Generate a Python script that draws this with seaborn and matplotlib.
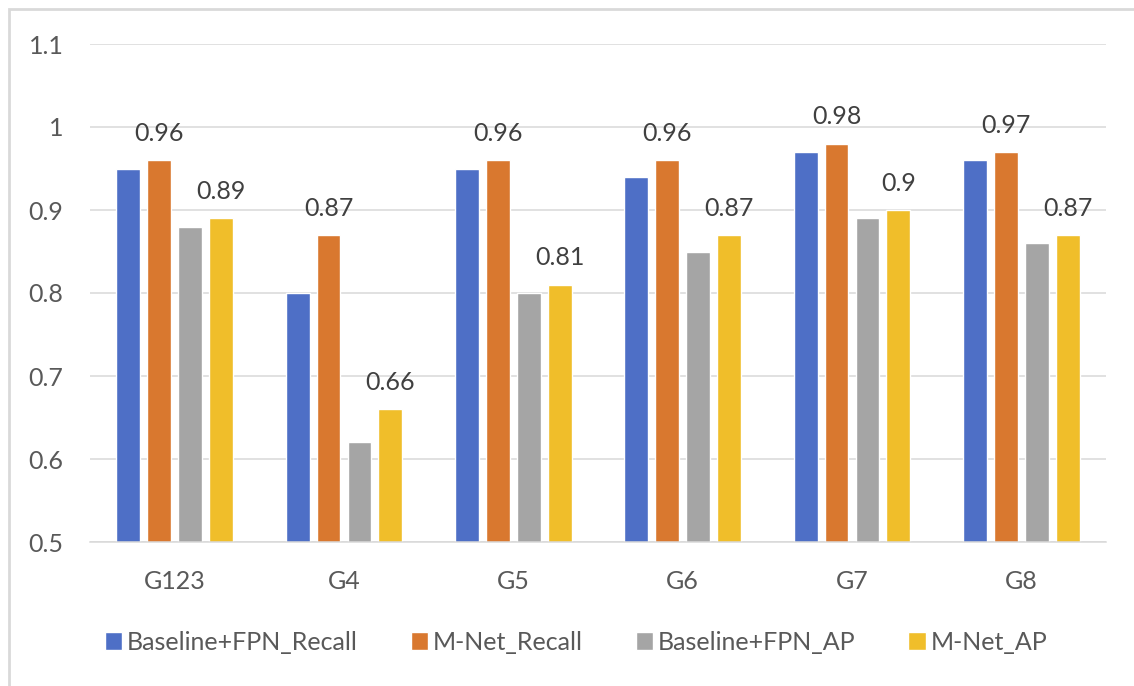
import matplotlib
matplotlib.use("Agg")
import matplotlib.pyplot as plt
from matplotlib.patches import Rectangle
import seaborn as sns
import pandas as pd

# Group names and the four series compared per group
groups = ["G123", "G4", "G5", "G6", "G7", "G8"]
series_names = ["Baseline+FPN_Recall", "M-Net_Recall", "Baseline+FPN_AP", "M-Net_AP"]

baseline_recall = [0.95, 0.80, 0.95, 0.94, 0.97, 0.96]
mnet_recall = [0.96, 0.87, 0.96, 0.96, 0.98, 0.97]
baseline_ap = [0.88, 0.62, 0.80, 0.85, 0.89, 0.86]
mnet_ap = [0.89, 0.66, 0.81, 0.87, 0.90, 0.87]

y_ticks = [0.5, 0.6, 0.7, 0.8, 0.9, 1.0, 1.1]
labelled_series = ["M-Net_Recall", "M-Net_AP"]

colors = ["#4E6FC6", "#D9782F", "#A5A5A5", "#F0BE2A"]

records = []
for name, vals in zip(series_names, [baseline_recall, mnet_recall, baseline_ap, mnet_ap]):
    for g, v in zip(groups, vals):
        records.append({"group": g, "series": name, "value": v})
df = pd.DataFrame(records)

sns.set_theme(style="white")
plt.rcParams["font.family"] = ["Lato", "DejaVu Sans"]

FS = 18
fig = plt.figure(figsize=(11.34, 6.86), dpi=100)
ax = fig.add_axes([90 / 1134, 1 - 542 / 686, (1106 - 90) / 1134, (542 - 44) / 686])

sns.barplot(data=df, x="group", y="value", hue="series", order=groups,
            hue_order=series_names, palette=colors, width=0.732, gap=0.226,
            saturation=1, ax=ax, legend=True)

ax.set_ylim(0.5, 1.1)
ax.set_xlim(-0.5, len(groups) - 0.5)
ax.set_yticks(y_ticks)
ax.set_yticklabels([f"{t:g}" for t in y_ticks])
ax.yaxis.grid(True, color="#D9D9D9", linewidth=1.1)
ax.set_axisbelow(True)
for side in ["top", "right", "left"]:
    ax.spines[side].set_visible(False)
ax.spines["bottom"].set_color("#D9D9D9")
ax.spines["bottom"].set_linewidth(1.1)
ax.tick_params(axis="both", length=0, labelsize=FS, labelcolor="#595959")
ax.tick_params(axis="y", pad=19)
ax.tick_params(axis="x", pad=20)
ax.set_xlabel("")
ax.set_ylabel("")

# Value labels above the M-Net bars
for name, cont in zip(series_names, ax.containers):
    if name in labelled_series:
        ax.bar_label(cont, fmt="%g", padding=11, fontsize=FS, color="#404040")

handles, labels = ax.get_legend_handles_labels()
ax.get_legend().remove()
fig.legend(handles, labels, loc="center", bbox_to_anchor=(0.508, 1 - 642 / 686),
           ncol=4, frameon=False, fontsize=FS, handlelength=0.7, handleheight=0.7,
           handletextpad=0.2, columnspacing=2.1, labelcolor="#595959")

# Light chart-area border
fig.patches.append(Rectangle((9 / 1134, -0.1), 1.2, 1 - 9 / 686 + 0.1,
                             transform=fig.transFigure, fill=False,
                             edgecolor="#D9D9D9", linewidth=2))

fig.savefig("out.png", dpi=100, facecolor="white")
